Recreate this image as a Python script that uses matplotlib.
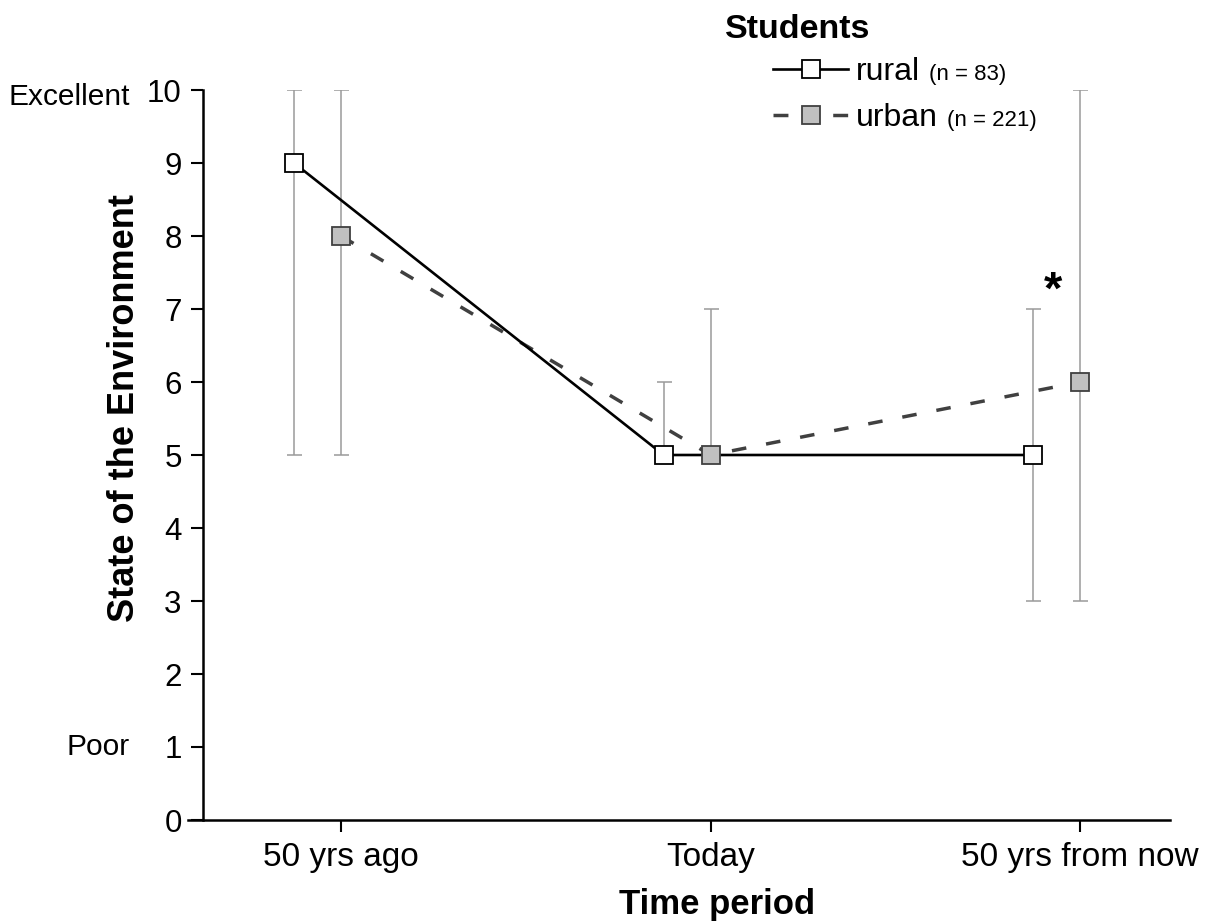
import numpy as np
import matplotlib
matplotlib.use("Agg")
import matplotlib.pyplot as plt
from matplotlib.lines import Line2D

plt.rcParams['font.family'] = ['Liberation Sans', 'DejaVu Sans']

# data
periods = ["50 yrs ago", "Today", "50 yrs from now"]
rural_vals = [9, 5, 5]
rural_low = [5, 5, 3]
rural_high = [10, 6, 7]
urban_vals = [8, 5, 6]
urban_low = [5, 5, 3]
urban_high = [10, 7, 10]
rural_n = 83
urban_n = 221

x = np.arange(len(periods))
offset = 0.127

W, H = 1224, 924
fig = plt.figure(figsize=(W / 100, H / 100), dpi=100)
ax = fig.add_axes([188 / W, 1 - 820 / H, (1170 - 188) / W, (820 - 90) / H])

err_kw = dict(fmt='none', ecolor='#9a9a9a', elinewidth=1.1, capsize=5.4, capthick=1.1, zorder=1)

xr = x - offset
ax.errorbar(xr, rural_vals,
            yerr=[np.array(rural_vals) - rural_low, np.array(rural_high) - rural_vals], **err_kw)
ax.errorbar(x, urban_vals,
            yerr=[np.array(urban_vals) - urban_low, np.array(urban_high) - urban_vals], **err_kw)

ax.plot(x, urban_vals, color='#404040', lw=2.5, dashes=(4.2, 5.8), zorder=2)
ax.plot(xr, rural_vals, color='black', lw=1.9, zorder=3)
ax.plot(x, urban_vals, ls='none', marker='s', ms=13.5, mfc='#c0c0c0', mec='#404040', mew=1.3, zorder=4)
ax.plot(xr, rural_vals, ls='none', marker='s', ms=13.5, mfc='white', mec='black', mew=1.3, zorder=5)

ax.set_xlim(-0.414, 2.243)
ax.set_ylim(0, 10)
ax.spines['left'].set_position(('data', -0.373))
ax.spines['top'].set_visible(False)
ax.spines['right'].set_visible(False)
for s in ['left', 'bottom']:
    ax.spines[s].set_linewidth(1.8)

ax.set_xticks(x)
ax.set_xticklabels(periods)
ax.set_yticks(range(0, 11))
ax.tick_params(axis='both', direction='out', length=8.5, width=1.5, pad=7)
ax.tick_params(axis='x', labelsize=24)
ax.tick_params(axis='y', labelsize=22.5)

ax.set_xlabel("Time period", fontsize=25, fontweight='bold')
ax.xaxis.set_label_coords((1.018 + 0.414) / 2.657, -0.093)
ax.set_ylabel("State of the Environment", fontsize=26, fontweight='bold')
ax.yaxis.set_label_coords((142 - 188) / 982, (820 - 408) / 730)

ax.text((130 - 341) / 369.5, 9.9, "Excellent", ha='right', va='center', fontsize=21.5, clip_on=False)
ax.text((130 - 341) / 369.5, 1.0, "Poor", ha='right', va='center', fontsize=21.5, clip_on=False)

ax.text(1.927, 7.24, "*", fontsize=34, fontweight='bold', ha='center', va='center')

# legend
fig.text(798 / W, 1 - 29 / H, "Students", fontsize=24.5, fontweight='bold', ha='center', va='center')
h_rural = Line2D([], [], color='black', lw=1.9, marker='s', ms=13.5, mfc='white', mec='black', mew=1.3)
h_urban = Line2D([], [], color='#404040', lw=2.5, dashes=(4.3, 4.3), marker='s', ms=13.5,
                 mfc='#c0c0c0', mec='#404040', mew=1.3)
leg = ax.legend([h_rural, h_urban], ["rural", "urban"], loc='upper left',
                bbox_to_anchor=(773 / W, 1 - 57 / H), bbox_transform=fig.transFigure,
                frameon=False, fontsize=23, borderpad=0, borderaxespad=0,
                handlelength=2.35, handletextpad=0.25, labelspacing=0.5)

# sample sizes in smaller type after the legend labels
fig.canvas.draw()
r = fig.canvas.get_renderer()
for t, n in zip(leg.get_texts(), [rural_n, urban_n]):
    bb = t.get_window_extent(r)
    base = bb.y0 + 0.212 * 23 * 100 / 72
    fig.text((bb.x1 + 9) / W, base / H, "(n = %d)" % n, ha='left', va='baseline', fontsize=16)

fig.savefig("out.png", dpi=100)
